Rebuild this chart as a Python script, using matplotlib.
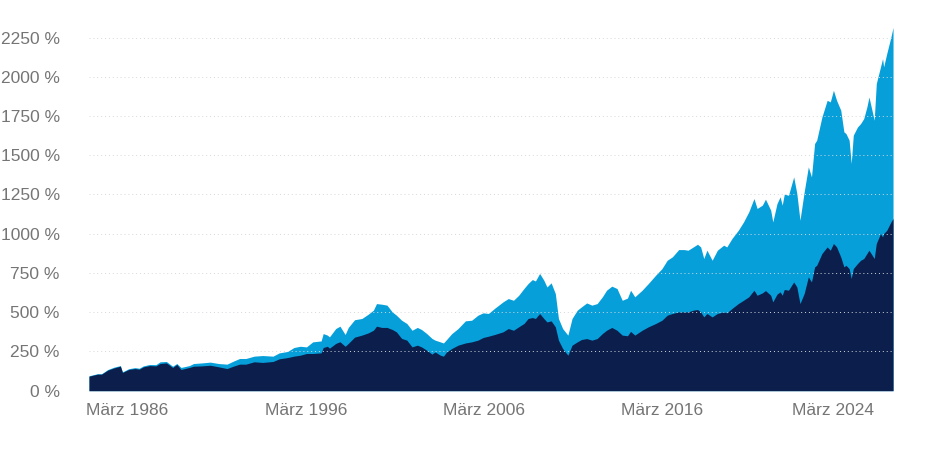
import matplotlib
matplotlib.use("Agg")
import matplotlib.pyplot as plt
import numpy as np

# Zeitachse (Jahre) und die beiden Reihen in %
years = [
    1986.2, 1986.6, 1986.8, 1987.1, 1987.4, 1987.7, 1987.8, 1988.1, 1988.4, 1988.6,
    1988.8, 1989.1, 1989.4, 1989.6, 1989.9, 1990.2, 1990.4, 1990.6, 1991.0, 1991.2,
    1991.6, 1992.0, 1992.4, 1992.8, 1993.1, 1993.4, 1993.7, 1994.1, 1994.5, 1995.0,
    1995.3, 1995.7, 1996.0, 1996.3, 1996.6, 1996.9, 1997.3, 1997.4, 1997.6, 1997.7,
    1998.0, 1998.2, 1998.45, 1998.6, 1998.9, 1999.25, 1999.55, 1999.8, 1999.95, 2000.2,
    2000.45, 2000.7, 2000.9, 2001.15, 2001.4, 2001.65, 2001.9, 2002.1, 2002.35, 2002.6,
    2002.75, 2003.0, 2003.15, 2003.3, 2003.55, 2003.85, 2004.2, 2004.5, 2004.8, 2005.05,
    2005.3, 2005.6, 2006.0, 2006.25, 2006.5, 2006.75, 2007.0, 2007.2, 2007.4, 2007.55,
    2007.75, 2007.95, 2008.1, 2008.3, 2008.5, 2008.65, 2008.85, 2009.1, 2009.3, 2009.55,
    2009.75, 2010.0, 2010.25, 2010.5, 2010.75, 2010.95, 2011.2, 2011.45, 2011.7, 2011.95,
    2012.1, 2012.3, 2012.65, 2012.95, 2013.3, 2013.6, 2013.85, 2014.1, 2014.4, 2014.65,
    2014.85, 2015.1, 2015.3, 2015.45, 2015.6, 2015.75, 2016.0, 2016.25, 2016.55, 2016.7,
    2016.95, 2017.25, 2017.5, 2017.75, 2018.0, 2018.15, 2018.4, 2018.55, 2018.8, 2018.9,
    2019.1, 2019.25, 2019.35, 2019.45, 2019.65, 2019.9, 2020.05, 2020.2, 2020.4, 2020.6,
    2020.75, 2020.9, 2021.0, 2021.25, 2021.5, 2021.65, 2021.8, 2021.95, 2022.15, 2022.3,
    2022.4, 2022.55, 2022.65, 2022.75, 2022.95, 2023.1, 2023.25, 2023.4, 2023.5, 2023.75,
    2023.85, 2024.05, 2024.15, 2024.2, 2024.35, 2024.55, 2024.65,
]

gesamt = [
    95, 108, 108, 135, 150, 160, 120, 140, 147, 143,
    158, 167, 166, 184, 186, 156, 173, 148, 160, 173,
    177, 182, 173, 169, 188, 205, 205, 220, 224, 220,
    241, 250, 275, 283, 279, 311, 317, 364, 354, 343,
    396, 411, 358, 403, 452, 460, 487, 513, 555, 551,
    545, 502, 481, 449, 428, 385, 403, 390, 364, 333,
    322, 311, 304, 326, 364, 396, 445, 449, 481, 496,
    492, 525, 566, 587, 576, 608, 651, 683, 708, 699,
    747, 704, 661, 687, 619, 460, 396, 354, 460, 513,
    534, 559, 545, 555, 598, 640, 666, 651, 576, 590,
    640, 598, 640, 683, 736, 778, 831, 853, 899, 899,
    895, 916, 933, 916, 842, 895, 831, 895, 927, 916,
    970, 1022, 1075, 1139, 1224, 1161, 1182, 1220, 1150, 1075,
    1192, 1235, 1182, 1252, 1245, 1362, 1256, 1086, 1266, 1426,
    1362, 1575, 1596, 1744, 1850, 1840, 1914, 1850, 1787, 1649,
    1638, 1596, 1447, 1628, 1680, 1702, 1734, 1808, 1871, 1723,
    1957, 2063, 2116, 2063, 2148, 2254, 2314,
]

basis = [
    92, 105, 105, 131, 145, 156, 116, 135, 141, 137,
    152, 160, 158, 173, 177, 148, 167, 135, 148, 156,
    158, 162, 152, 141, 156, 169, 169, 184, 180, 186,
    203, 211, 220, 226, 237, 237, 241, 275, 283, 271,
    301, 312, 283, 301, 341, 354, 368, 385, 411, 403,
    403, 390, 375, 333, 322, 279, 290, 279, 258, 233,
    247, 226, 220, 247, 269, 290, 304, 311, 322, 339,
    347, 358, 375, 396, 385, 407, 428, 460, 466, 460,
    492, 460, 438, 445, 407, 322, 269, 226, 290, 311,
    326, 332, 322, 332, 364, 385, 403, 385, 354, 350,
    378, 354, 385, 407, 428, 449, 481, 492, 502, 502,
    502, 513, 517, 502, 470, 492, 470, 492, 502, 496,
    524, 555, 576, 598, 640, 608, 623, 638, 608, 566,
    615, 630, 608, 645, 640, 693, 661, 555, 619, 725,
    693, 789, 799, 874, 916, 895, 938, 916, 852, 789,
    799, 778, 715, 778, 810, 831, 842, 874, 895, 842,
    938, 1001, 980, 1001, 1022, 1075, 1097,
]

tick_pos = [1988.0, 1996.6, 2005.1, 2013.6, 2021.8]
tick_labels = ["März 1986", "März 1996", "März 2006", "März 2016", "März 2024"]
y_ticks = [0, 250, 500, 750, 1000, 1250, 1500, 1750, 2000, 2250]

plt.rcParams["font.family"] = ["Liberation Sans", "DejaVu Sans"]

fig = plt.figure(figsize=(9.26, 4.5), dpi=100)
ax = fig.add_axes([0.0961, 0.1318, 0.8683, 0.8127])

ax.fill_between(years, 0, gesamt, color="#069fda", linewidth=0, zorder=1)
ax.fill_between(years, 0, basis, color="#0b1e4c", linewidth=0, zorder=2)

ax.set_xlim(years[0], years[-1])
ax.set_ylim(0, 2330)

ax.set_yticks(y_ticks)
ax.set_yticklabels(["%d %%" % v for v in y_ticks])
ax.set_xticks(tick_pos)
ax.set_xticklabels(tick_labels)
ax.tick_params(axis="y", length=0, pad=21, labelsize=12.5, labelcolor="#757575")
ax.tick_params(axis="x", length=0, pad=9, labelsize=12.5, labelcolor="#757575")

ax.grid(axis="y", linestyle=(0, (1, 3)), color="#d5d8dc", linewidth=0.7, zorder=3)
ax.set_axisbelow(False)
for s in ax.spines.values():
    s.set_visible(False)

fig.savefig("out.png", dpi=100)
